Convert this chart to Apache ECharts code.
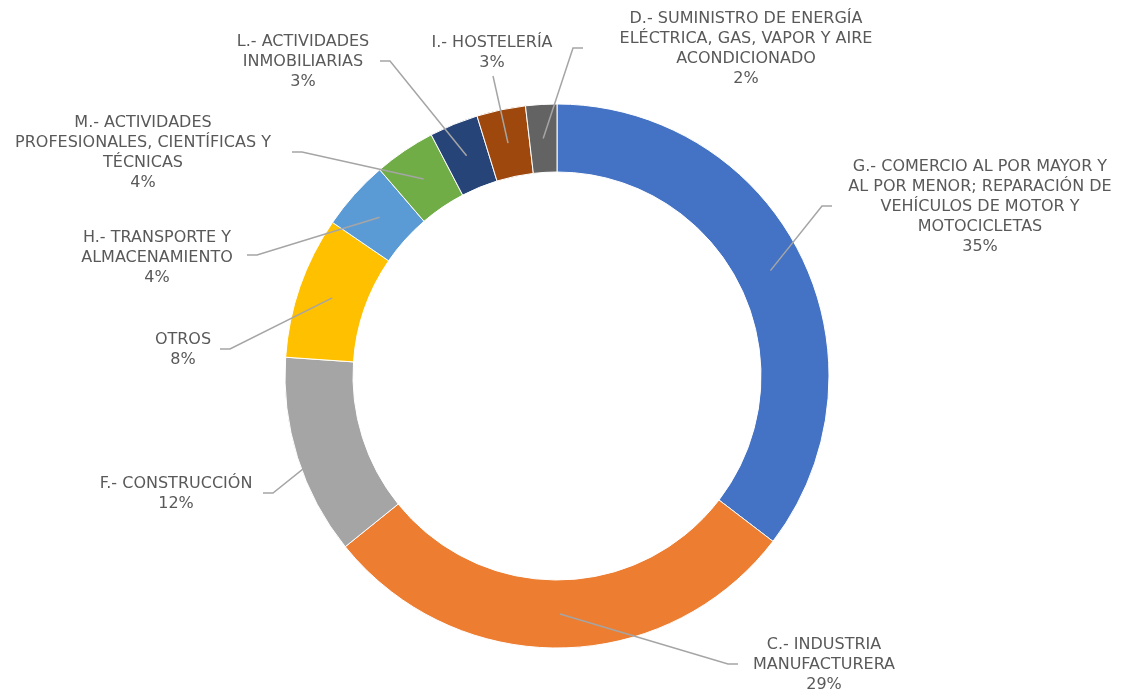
<!DOCTYPE html>
<html lang="es">
<head>
<meta charset="UTF-8">
<title>Sectores</title>
<script src="https://cdn.jsdelivr.net/npm/echarts@6/dist/echarts.min.js"></script>
<style>
    html, body { margin: 0; height: 100%; background: #fff; }
    #main { width: 1124px; height: 689px; }
</style>
</head>
<body>
<div id="main"></div>
<script>
    // datos (porcentaje de cada sector)
    var sectores = [
        'G.- COMERCIO AL POR MAYOR Y\nAL POR MENOR; REPARACIÓN DE\nVEHÍCULOS DE MOTOR Y\nMOTOCICLETAS',
        'C.- INDUSTRIA\nMANUFACTURERA',
        'F.- CONSTRUCCIÓN',
        'OTROS',
        'H.- TRANSPORTE Y\nALMACENAMIENTO',
        'M.- ACTIVIDADES\nPROFESIONALES, CIENTÍFICAS Y\nTÉCNICAS',
        'L.- ACTIVIDADES\nINMOBILIARIAS',
        'I.- HOSTELERÍA',
        'D.- SUMINISTRO DE ENERGÍA\nELÉCTRICA, GAS, VAPOR Y AIRE\nACONDICIONADO'
    ];
    var valores = [35.4, 28.8, 11.9, 8.45, 4.15, 3.65, 2.9, 2.9, 1.85];
    var colores = ['#4472C4', '#ED7D31', '#A5A5A5', '#FFC000', '#5B9BD5', '#70AD47', '#264478', '#9E480E', '#636363'];

    // posicion de las etiquetas: x centro, y arriba, fin de la linea (lx, ly)
    var etiquetas = [
        {x: 980, y: 157, lx: 832, ly: 206},
        {x: 824, y: 635, lx: 738, ly: 664},
        {x: 176, y: 474, lx: 263, ly: 493},
        {x: 183, y: 330, lx: 220, ly: 349},
        {x: 157, y: 228, lx: 247, ly: 255},
        {x: 143, y: 113, lx: 292, ly: 152},
        {x: 303, y: 32,  lx: 380, ly: 61},
        {x: 492, y: 33,  lx: 493, ly: 76, recta: true},
        {x: 746, y: 9,   lx: 583, ly: 48}
    ];

    var cx = 557, cy = 376, r0 = 204, r1 = 272;

    var datos = [], datosEtiq = [];
    for (var i = 0; i < sectores.length; i++) {
        datos.push({name: sectores[i], value: valores[i], itemStyle: {color: colores[i]}});
        datosEtiq.push({name: sectores[i], value: valores[i]});
    }

    var myChart = echarts.init(document.getElementById('main'));
    var option = {
        backgroundColor: '#fff',
        animation: false,
        series: [{
            // anillo
            type: 'pie',
            z: 2,
            center: [cx, cy],
            radius: [r0, r1],
            startAngle: 90,
            clockwise: true,
            data: datos,
            itemStyle: {borderColor: '#fff', borderWidth: 1},
            label: {show: false},
            labelLine: {show: false}
        }, {
            // etiquetas y lineas encima del anillo
            type: 'pie',
            z: 3,
            silent: true,
            center: [cx, cy],
            radius: [r0, r1],
            startAngle: 90,
            clockwise: true,
            avoidLabelOverlap: false,
            data: datosEtiq,
            itemStyle: {color: 'rgba(0,0,0,0)', borderWidth: 0},
            label: {
                show: true,
                position: 'outside',
                color: '#595959',
                fontFamily: 'DejaVu Sans',
                fontSize: 16,
                lineHeight: 20,
                formatter: function (p) {
                    return p.name + '\n' + Math.round(p.percent) + '%';
                }
            },
            labelLine: {
                show: true,
                lineStyle: {color: '#A5A5A5', width: 1.5}
            },
            labelLayout: function (p) {
                var e = etiquetas[p.dataIndex];
                var pts = p.labelLinePoints;
                var k = (r0 + r1) / 2 / r1;
                var ini = [cx + (pts[0][0] - cx) * k, cy + (pts[0][1] - cy) * k];
                var codo;
                if (e.recta) {
                    codo = [e.lx, e.ly];
                } else {
                    codo = [e.lx + (e.lx < cx ? 10 : -10), e.ly];
                }
                return {
                    x: e.x,
                    y: e.y,
                    align: 'center',
                    verticalAlign: 'top',
                    labelLinePoints: [ini, codo, [e.lx, e.ly]]
                };
            }
        }]
    };
    myChart.setOption(option);
</script>
</body>
</html>
